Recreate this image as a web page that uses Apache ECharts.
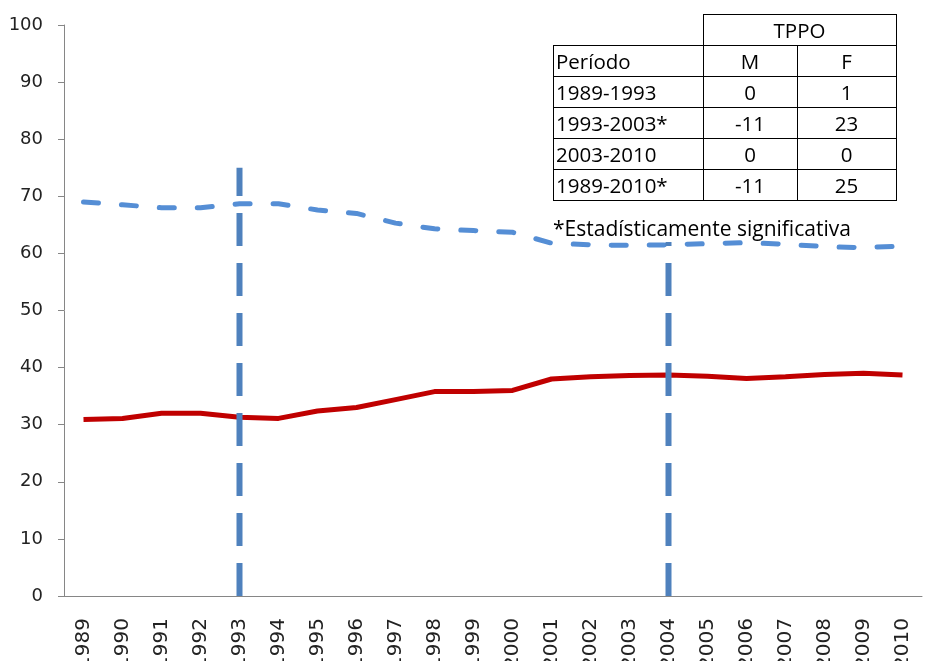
<!DOCTYPE html>
<html>
<head>
<meta charset="utf-8">
<script src="https://cdn.jsdelivr.net/npm/echarts@6/dist/echarts.min.js"></script>
<style>
    body { margin: 0; background: #fff; }
    #wrap { position: relative; width: 925px; height: 661px; }
    #chart { width: 925px; height: 661px; }
    #tppo-table {
        position: absolute; left: 553px; top: 14px;
        border-collapse: collapse;
        font-family: "Open Sans", "Noto Sans", sans-serif;
        font-size: 20.5px; color: #000;
    }
    #tppo-table td { border: 1.5px solid #000; height: 30px; padding: 0 2px; line-height: 30px; }
    #tppo-table td.num { text-align: center; }
    #tppo-table td.blank { border: none; }
    #tppo-note {
        position: absolute; left: 553px; top: 214px;
        font-family: "Open Sans", "Noto Sans", sans-serif;
        font-size: 21px; color: #000; white-space: nowrap;
    }
</style>
</head>
<body>
<div id="wrap">
    <div id="chart"></div>
    <table id="tppo-table"></table>
    <div id="tppo-note"></div>
</div>
<script>
var years = ['1989', '1990', '1991', '1992', '1993', '1994', '1995', '1996', '1997', '1998', '1999',
    '2000', '2001', '2002', '2003', '2004', '2005', '2006', '2007', '2008', '2009', '2010'];
var seriesM = [69.0, 68.5, 68.0, 68.0, 68.7, 68.7, 67.6, 67.0, 65.3, 64.3, 64.0,
    63.7, 61.8, 61.5, 61.4, 61.5, 61.7, 61.9, 61.6, 61.2, 61.0, 61.3];
var seriesF = [30.9, 31.1, 32.0, 32.0, 31.3, 31.1, 32.4, 33.0, 34.4, 35.8, 35.8,
    36.0, 38.0, 38.4, 38.6, 38.7, 38.5, 38.1, 38.4, 38.8, 39.0, 38.7];
var breakYears = ['1993', '2004'];
var breakTops = [75, 62];

var tableHead = ['Período', 'M', 'F'];
var tablePeriods = ['1989-1993', '1993-2003*', '2003-2010', '1989-2010*'];
var tableM = ['0', '-11', '0', '-11'];
var tableF = ['1', '23', '0', '25'];
var tableNote = '*Estadísticamente significativa';

function buildTable() {
    var html = '<tr><td class="blank" style="width:145px"></td><td colspan="2" class="num">TPPO</td></tr>';
    html += '<tr><td>' + tableHead[0] + '</td><td class="num" style="width:89px">' + tableHead[1] +
        '</td><td class="num" style="width:94px">' + tableHead[2] + '</td></tr>';
    for (var i = 0; i < tablePeriods.length; i++) {
        html += '<tr><td>' + tablePeriods[i] + '</td><td class="num">' + tableM[i] +
            '</td><td class="num">' + tableF[i] + '</td></tr>';
    }
    document.getElementById('tppo-table').innerHTML = html;
    document.getElementById('tppo-note').textContent = tableNote;
}

function genBreakSeries() {
    var list = [];
    for (var i = 0; i < breakYears.length; i++) {
        list.push({
            type: 'line',
            data: [[breakYears[i], 0], [breakYears[i], breakTops[i]]],
            symbol: 'none',
            z: 5,
            lineStyle: { color: '#4f81bd', width: 6, type: [33, 17] }
        });
    }
    return list;
}

function genOption() {
    var series = [{
        type: 'line',
        data: seriesM,
        symbol: 'none',
        lineStyle: { color: '#558ed5', width: 5, type: [15, 23], cap: 'round' }
    }, {
        type: 'line',
        data: seriesF,
        symbol: 'none',
        lineStyle: { color: '#c00000', width: 5 }
    }];
    return {
        animation: false,
        grid: { left: 64, right: 3, top: 25, bottom: 65, containLabel: false, outerBoundsMode: 'none' },
        xAxis: {
            type: 'category',
            data: years,
            axisLine: { lineStyle: { color: '#868686', width: 1 } },
            axisTick: { length: 8, lineStyle: { color: '#868686' } },
            axisLabel: {
                rotate: 90, margin: 22, interval: 0,
                fontFamily: 'DejaVu Sans', fontSize: 20, color: '#222'
            }
        },
        yAxis: {
            type: 'value',
            min: 0,
            max: 100,
            interval: 10,
            splitLine: { show: false },
            axisLine: { show: true, lineStyle: { color: '#868686', width: 1 } },
            axisTick: { show: true, length: 6, lineStyle: { color: '#868686' } },
            axisLabel: { margin: 21, fontFamily: 'DejaVu Sans', fontSize: 18, color: '#222' }
        },
        series: series.concat(genBreakSeries())
    };
}

buildTable();
var chart = echarts.init(document.getElementById('chart'));
chart.setOption(genOption());
</script>
</body>
</html>
